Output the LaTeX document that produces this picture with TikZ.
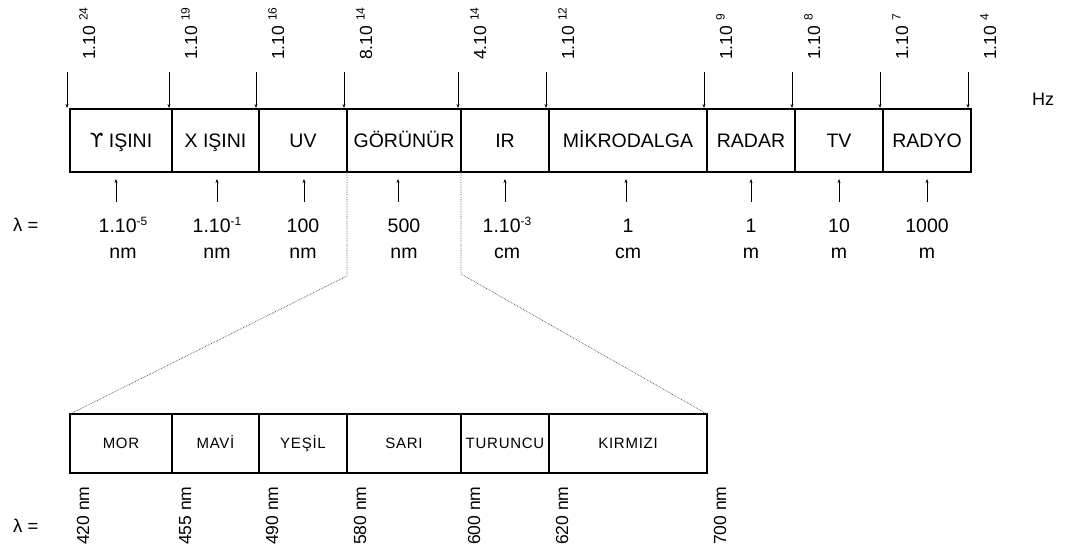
\documentclass[tikz,border=0pt]{standalone}
\usepackage{fontspec}
\setmainfont{Liberation Sans}
\newfontfamily\spaced[LetterSpace=5]{Liberation Sans}
\newfontfamily\dejavu{DejaVu Sans}
\usetikzlibrary{arrows.meta}
\newcommand{\fsz}[1]{\fontsize{#1}{#1}\selectfont}
\newcommand{\pw}[2]{{\fsz{17.5}#1}\hspace{5pt}\raisebox{7.5pt}{\fsz{12}#2}}
\newcommand{\lv}[2]{{\fsz{19.5}#1}\raisebox{7pt}{\fsz{12}#2}}
\tikzset{
  topbox/.style={draw, line width=1.6pt, minimum height=63pt, inner sep=0pt, outer sep=0pt,
    text height=14pt, text depth=0pt, font=\fsz{19.5}},
  lowbox/.style={draw, line width=1.6pt, minimum height=59pt, inner sep=0pt, outer sep=0pt,
    text height=10.7pt, text depth=0pt, font=\spaced\fsz{15}},
  tickdown/.style={line width=0.7pt, -{Stealth[length=4pt,width=3pt]}},
  tickup/.style={line width=0.7pt, -{Stealth[length=4pt,width=3pt]}},
  zoomline/.style={densely dotted, line width=0.7pt, black!70},
  freqlabel/.style={rotate=90, anchor=base west, inner sep=0pt},
  nmlabel/.style={rotate=90, anchor=base west, inner sep=0pt, font=\fsz{17.5}},
  value/.style={anchor=base, inner sep=0pt, font=\fsz{19.5}},
  lamlabel/.style={anchor=base west, inner sep=0pt, font=\fsz{18.5}},
}
\begin{document}
\begin{tikzpicture}[x=1pt,y=-1pt]
\useasboundingbox (0,0) rectangle (1066,548);

% spectrum bands
\node[topbox, minimum width=102pt] (gamma) at (121,140.5) {{\dejavu ϒ} IŞINI};
\node[topbox, minimum width=87pt]  (xray)  at (215.5,140.5) {X IŞINI};
\node[topbox, minimum width=88pt]  (uv)    at (303,140.5) {UV};
\node[topbox, minimum width=114pt] (vis)   at (404,140.5) {GÖRÜNÜR};
\node[topbox, minimum width=88pt]  (ir)    at (505,140.5) {IR};
\node[topbox, minimum width=158pt] (micro) at (628,140.5) {MİKRODALGA};
\node[topbox, minimum width=88pt]  (radar) at (751,140.5) {RADAR};
\node[topbox, minimum width=88pt]  (tv)    at (839,140.5) {TV};
\node[topbox, minimum width=88pt]  (radio) at (927,140.5) {RADYO};

% frequency boundaries
\foreach \x/\m/\e [count=\i] in {70/1.10/24,172/1.10/19,259/1.10/16,347/8.10/14,461/4.10/14,549/1.10/12,707/1.10/9,795/1.10/8,883/1.10/7,971/1.10/4}{
  \coordinate (ft\i) at (\x-3,72);
  \coordinate (fb\i) at (\x-3,108);
  \draw[tickdown] (ft\i) -- (fb\i);
  \node[freqlabel] (fl\i) at (\x+25,60) {\pw{\m}{\e}};
}
\node[anchor=base west, inner sep=0pt, font=\fsz{18}] (hz) at (1032,106) {Hz};

% wavelengths
\node[lamlabel] (lamtop) at (13,232) {λ =};
\foreach \x/\ax/\v/\s/\u [count=\i] in {
  123/116/1.10/-5/nm, 217/217/1.10/-1/nm, 303/304/100//nm, 404/398/500//nm,
  507/505/1.10/-3/cm, 628/626/1//cm, 751/751/1//m, 839/839/10//m, 927/927/1000//m}{
  \coordinate (wb\i) at (\ax,202);
  \coordinate (wt\i) at (\ax,179);
  \draw[tickup] (wb\i) -- (wt\i);
  \node[value] (wv\i) at (\x,233) {\lv{\v}{\s}};
  \node[value] (wu\i) at (\x,259) {\u};
}

% visible range, enlarged
\node[lowbox, minimum width=102pt] (mor)     at (121,443.5) {MOR};
\node[lowbox, minimum width=87pt]  (mavi)    at (215.5,443.5) {MAVİ};
\node[lowbox, minimum width=88pt]  (yesil)   at (303,443.5) {YEŞİL};
\node[lowbox, minimum width=114pt] (sari)    at (404,443.5) {SARI};
\node[lowbox, minimum width=88pt]  (turuncu) at (505,443.5) {TURUNCU};
\node[lowbox, minimum width=158pt] (kirmizi) at (628,443.5) {KIRMIZI};

\coordinate (bendL) at (347,276);
\coordinate (bendR) at (461,274);
\draw[zoomline] (vis.south west) -- (bendL) -- (mor.north west);
\draw[zoomline] (vis.south east) -- (bendR) -- (kirmizi.north east);

\node[lamlabel] (lamlow) at (13,532) {λ =};
\foreach \x/\t in {70/420,172/455,259/490,347/580,461/600,549/620,707/700}{
  \node[nmlabel] (nm\t) at (\x+19,545) {\t{} nm};
}
\end{tikzpicture}
\end{document}
